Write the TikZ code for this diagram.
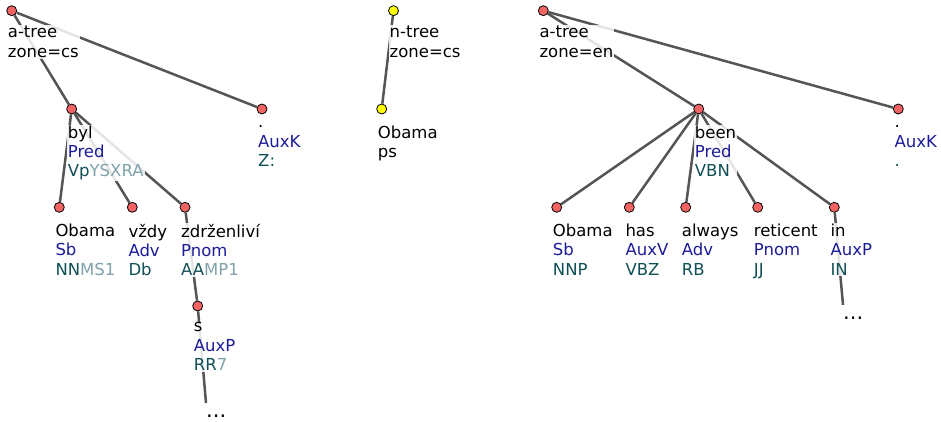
\documentclass[tikz,border=0pt]{standalone}
\usepackage{fontspec}
\setmainfont{DejaVu Sans}
\usetikzlibrary{positioning}
\definecolor{treeedge}{HTML}{555555}
\definecolor{anodefill}{HTML}{F26464}
\definecolor{tnodefill}{HTML}{FFFF00}
\definecolor{afuncol}{HTML}{1C1C99}
\definecolor{tagcol}{HTML}{0F4F55}
\definecolor{tagsfx}{HTML}{7FA3AA}
\pgfdeclarelayer{edges}
\pgfdeclarelayer{labels}
\pgfsetlayers{edges,labels,main}
\newcommand\af[1]{\textcolor{afuncol}{#1}}
\newcommand\tg[2]{\textcolor{tagcol}{#1}\textcolor{tagsfx}{#2}}

\begin{document}
\begin{tikzpicture}[
  x=1pt, y=-1pt,
  anode/.style={circle, draw=black, line width=0.8pt, fill=anodefill,
                minimum size=10pt, inner sep=0pt},
  tnode/.style={anode, fill=tnodefill},
  lbl/.style={anchor=north west, align=left, inner xsep=1pt, inner ysep=1pt,
              font=\fontsize{16.5}{19.3}\selectfont, fill=white,
              fill opacity=0.85, text opacity=1,
              execute at begin node={\rule{0pt}{13pt}}},
  more/.style={anchor=north west, inner sep=0pt, text height=14pt,
               font=\fontsize{21}{21}\selectfont},
  edge/.style={draw=treeedge, line width=2.5pt}
]
\useasboundingbox (0,0) rectangle (941,422);

% a-tree, zone=cs
\node[anode] (ra)   at (11.7,10.7) {};
\node[anode] (byl)  at (71.7,109) {};
\node[anode] (pcs)  at (262,109) {};
\node[anode] (obcs) at (59.3,207.3) {};
\node[anode] (vzdy) at (132.3,207.3) {};
\node[anode] (zdr)  at (185,207.3) {};
\node[anode] (scs)  at (197.7,306) {};
\node[more] (dl) at (206,403) {...};

% n-tree, zone=cs
\node[tnode] (rn)  at (393.5,10.7) {};
\node[tnode] (obn) at (381.7,109) {};

% a-tree, zone=en
\node[anode] (re)   at (543.3,10.7) {};
\node[anode] (been) at (698.7,109) {};
\node[anode] (pen)  at (898.3,109) {};
\node[anode] (oben) at (556.7,207.3) {};
\node[anode] (has)  at (629.3,207.3) {};
\node[anode] (alw)  at (685.7,207.3) {};
\node[anode] (ret)  at (757.7,207.3) {};
\node[anode] (inn)  at (834.3,207.3) {};
\node[more] (dr) at (843,305) {...};

\begin{pgfonlayer}{labels}
\node[lbl] (raL)   at ([shift={(-5,14.5)}]ra.center) {a-tree\\zone=cs};
\node[lbl] (bylL)  at ([shift={(-5,15.5)}]byl.center) {byl\\\af{Pred}\\\tg{Vp}{YSXRA}};
\node[lbl] (pcsL)  at ([shift={(-5,15.5)}]pcs.center) {.\\\af{AuxK}\\\tg{Z:}{}};
\node[lbl] (obcsL) at ([shift={(-5,15.5)}]obcs.center) {Obama\\\af{Sb}\\\tg{NN}{MS1}};
\node[lbl] (vzdyL) at ([shift={(-5,15.5)}]vzdy.center) {vždy\\\af{Adv}\\\tg{Db}{}};
\node[lbl] (zdrL)  at ([shift={(-5,15.5)}]zdr.center) {zdrženliví\\\af{Pnom}\\\tg{AA}{MP1}};
\node[lbl] (scsL)  at ([shift={(-5,15.5)}]scs.center) {s\\\af{AuxP}\\\tg{RR}{7}};

\node[lbl] (rnL)  at ([shift={(-5,14.5)}]rn.center) {n-tree\\zone=cs};
\node[lbl] (obnL) at ([shift={(-5,15.5)}]obn.center) {Obama\\ps};

\node[lbl] (reL)   at ([shift={(-5,14.5)}]re.center) {a-tree\\zone=en};
\node[lbl] (beenL) at ([shift={(-5,15.5)}]been.center) {been\\\af{Pred}\\\tg{VBN}{}};
\node[lbl] (penL)  at ([shift={(-5,15.5)}]pen.center) {.\\\af{AuxK}\\\tg{.}{}};
\node[lbl] (obenL) at ([shift={(-5,15.5)}]oben.center) {Obama\\\af{Sb}\\\tg{NNP}{}};
\node[lbl] (hasL)  at ([shift={(-5,15.5)}]has.center) {has\\\af{AuxV}\\\tg{VBZ}{}};
\node[lbl] (alwL)  at ([shift={(-5,15.5)}]alw.center) {always\\\af{Adv}\\\tg{RB}{}};
\node[lbl] (retL)  at ([shift={(-5,15.5)}]ret.center) {reticent\\\af{Pnom}\\\tg{JJ}{}};
\node[lbl] (innL)  at ([shift={(-5,15.5)}]inn.center) {in\\\af{AuxP}\\\tg{IN}{}};
\end{pgfonlayer}

\begin{pgfonlayer}{edges}
\foreach \a/\b in {ra/byl, ra/pcs, byl/obcs, byl/vzdy, byl/zdr, zdr/scs,
                   rn/obn, re/been, re/pen, been/oben, been/has, been/alw,
                   been/ret, been/inn}
  \draw[edge] (\a) -- (\b);
\draw[edge] (scs) -- (dl.north west);
\draw[edge] (inn) -- (dr.north west);
\end{pgfonlayer}
\end{tikzpicture}
\end{document}
